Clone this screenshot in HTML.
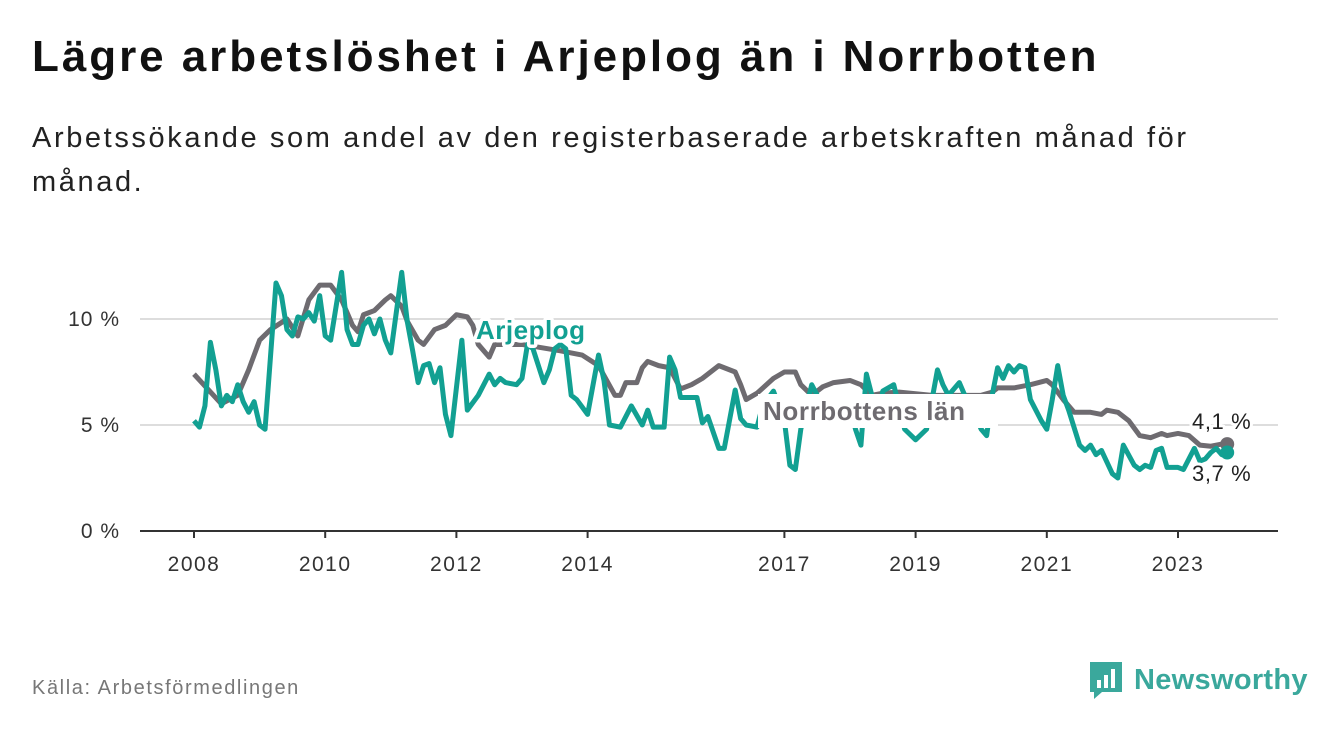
<!DOCTYPE html>
<html><head><meta charset="utf-8"><style>
body{margin:0;width:1340px;height:734px;background:#fff;font-family:"Liberation Sans","DejaVu Sans",sans-serif;overflow:hidden;position:relative}
.t{position:absolute;left:32px;top:32px;font-size:44px;font-weight:bold;color:#111;letter-spacing:2.95px}
.s{position:absolute;left:32px;top:116px;font-size:29px;color:#222;line-height:44px;width:1200px;letter-spacing:2.6px}
.src{position:absolute;left:32px;top:677px;font-size:20px;color:#777;letter-spacing:1.6px}
.logo{position:absolute;left:1088px;top:660px;display:flex;align-items:center;gap:10px;color:#3aa89c;font-size:29px;font-weight:bold;letter-spacing:0.3px}
</style></head><body>
<div class="t">Lägre arbetslöshet i Arjeplog än i Norrbotten</div>
<div class="s">Arbetssökande som andel av den registerbaserade arbetskraften månad för månad.</div>
<svg id="c" width="1340" height="734" style="position:absolute;left:0;top:0"></svg>
<div class="src">Källa: Arbetsförmedlingen</div>
<div class="logo"><svg width="36" height="40" viewBox="0 0 36 40"><path d="M2 2h32v30H14l-8 7v-7H2z" fill="#3aa89c"/><rect x="9" y="20" width="4" height="8" fill="#fff"/><rect x="16" y="15" width="4" height="13" fill="#fff"/><rect x="23" y="9" width="4" height="19" fill="#fff"/></svg><span>Newsworthy</span></div>
<script>
const xTicks=[2008,2010,2012,2014,2017,2019,2021,2023];
const yTicks=[0,5,10];
const grayMonths=[0,5,8,10,12,14,17,19,21,23,25,27,29,30,31,33,35,36,38,39,41,42,44,46,48,50,51,52,54,55,60,67,71,74,77,78,79,81,82,83,85,87,89,91,93,95,96,99,100,101,103,106,108,110,111,113,115,117,120,122,124,126,129,135,144,146,147,150,153,156,157,159,161,164,166,167,169,171,173,175,177,178,180,182,184,186,188,189];
const grayValues=[7.4,6.0,6.4,7.6,9.0,9.5,10.0,9.2,10.9,11.6,11.6,10.9,9.7,9.4,10.2,10.4,10.9,11.1,10.6,9.9,9.0,8.8,9.5,9.7,10.2,10.1,9.7,8.8,8.2,8.8,8.8,8.5,8.3,7.8,6.4,6.4,7.0,7.0,7.7,8.0,7.8,7.7,6.7,6.9,7.2,7.6,7.8,7.5,6.9,6.2,6.5,7.2,7.5,7.5,6.9,6.4,6.8,7.0,7.1,6.9,6.4,6.5,6.55,6.4,6.4,6.55,6.75,6.75,6.9,7.1,6.9,6.2,5.6,5.6,5.5,5.7,5.6,5.2,4.5,4.4,4.6,4.5,4.6,4.5,4.05,4.0,4.1,4.1];
const tealMonths=[0,1,2,3,4,5,6,7,8,9,10,11,12,13,15,16,17,18,19,20,21,22,23,24,25,27,28,29,30,31,32,33,34,35,36,38,39,40,41,42,43,44,45,46,47,49,50,52,54,55,56,57,59,60,61,62,64,65,66,67,68,69,70,72,74,75,76,78,80,82,83,84,86,87,88,89,91,92,93,94,96,97,99,100,101,103,104,106,108,109,110,111,113,114,115,117,119,120,121,122,123,124,125,126,128,130,132,134,136,137,138,140,141,143,144,145,146,147,148,149,150,151,152,153,155,156,157,158,159,160,162,163,164,165,166,168,169,170,172,173,174,175,176,177,178,180,181,183,184,185,186,187,188,189];
const tealValues=[5.2,4.9,5.9,8.9,7.6,5.9,6.4,6.1,6.9,6.1,5.6,6.1,5.0,4.8,11.7,11.1,9.5,9.2,10.1,10.0,10.3,9.9,11.1,9.2,9.0,12.2,9.5,8.8,8.8,9.7,10.0,9.3,10.0,9.0,8.4,12.2,9.9,8.5,7.0,7.8,7.9,7.0,7.7,5.5,4.5,9.0,5.7,6.4,7.4,6.9,7.2,7.0,6.9,7.2,8.8,8.6,7.0,7.6,8.6,8.8,8.6,6.4,6.2,5.5,8.3,7.1,5.0,4.9,5.9,5.0,5.7,4.9,4.9,8.2,7.6,6.3,6.3,6.3,5.1,5.4,3.9,3.9,6.65,5.3,5.0,4.9,5.9,6.6,5.2,3.1,2.9,4.8,6.9,6.4,5.0,5.2,6.2,5.9,4.8,4.05,7.4,6.4,5.2,6.6,6.9,4.8,4.3,4.8,7.6,6.9,6.4,7.0,6.4,5.4,4.8,4.5,6.4,7.7,7.2,7.8,7.5,7.8,7.7,6.2,5.2,4.8,6.2,7.8,6.4,5.7,4.05,3.8,4.05,3.6,3.8,2.7,2.5,4.05,3.1,2.9,3.1,3.0,3.8,3.9,3.0,3.0,2.9,3.9,3.3,3.4,3.7,3.9,3.6,3.7];
const svg=document.getElementById('c');const NS='http://www.w3.org/2000/svg';
const X=m=>194+m*(65.6/12);const Xy=y=>X((y-2008)*12);const Y=v=>531-v*21.2;
function el(t,a,p){const e=document.createElementNS(NS,t);for(const k in a)e.setAttribute(k,a[k]);(p||svg).appendChild(e);return e;}
yTicks.forEach(v=>{
const l=el('line',{x1:140,x2:1278,y1:Y(v),y2:Y(v),stroke:v?'#ddd':'#333','stroke-width':2});


const t=el('text',{x:120,y:Y(v)+7,'text-anchor':'end','font-size':21,fill:'#333','letter-spacing':1});t.textContent=v+' %';


});
xTicks.forEach(y=>{
const l=el('line',{x1:Xy(y),x2:Xy(y),y1:531,y2:538,stroke:'#333','stroke-width':2});


const t=el('text',{x:Xy(y),y:571,'text-anchor':'middle','font-size':21,fill:'#333','letter-spacing':1.5});t.textContent=y;


});
function line(ms,vs,c,name){
const p=el('polyline',{points:ms.map((m,i)=>X(m)+','+Y(vs[i])).join(' '),fill:'none',stroke:c,'stroke-width':5,'stroke-linejoin':'round'});


const d=el('circle',{cx:X(ms[ms.length-1]),cy:Y(vs[vs.length-1]),r:7,fill:c});


}
line(grayMonths,grayValues,'#6e6b70','norrbotten-line');
line(tealMonths,tealValues,'#12a092','arjeplog-line');
const bg=el('rect',{x:758,y:394,width:240,height:34,fill:'#fff'});


function lab(x,y,txt,c,name,bold,halo,ls){
const t=el('text',{x:x,y:y,'font-size':bold?26:22,'font-weight':bold?'bold':'normal',fill:c,stroke:'#fff','stroke-width':halo,'paint-order':'stroke','stroke-linejoin':'round','letter-spacing':ls});t.textContent=txt;


}
lab(476,339,'Arjeplog','#12a092','arjeplog-label',true,7,0.5);
lab(763,420,'Norrbottens län','#6e6b70','norrbotten-label',true,0,0.6);
const lg=grayValues[grayValues.length-1],lt=tealValues[tealValues.length-1];
lab(1192,429,lg.toFixed(1).replace('.',',')+' %','#222','norrbotten-end-value',false,6,0.6);
lab(1192,481,lt.toFixed(1).replace('.',',')+' %','#222','arjeplog-end-value',false,6,0.6);
</script>
</body></html>
